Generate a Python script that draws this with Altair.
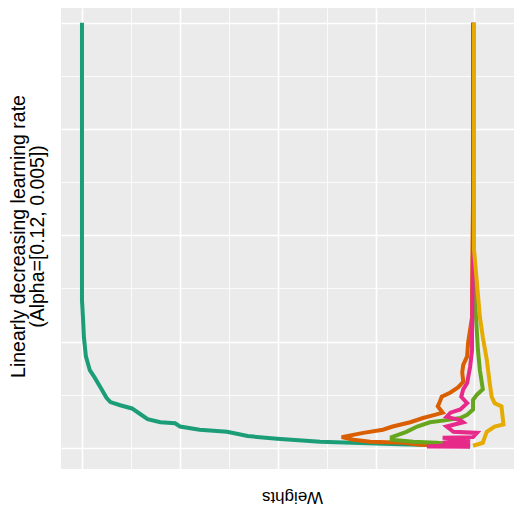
import altair as alt
import pandas as pd

# Series (x = weight position, y = vertical position)
series_names = ["s1", "s2", "s3", "s4", "s5"]
series_colors = ["#1B9E77", "#D95F02", "#66A61E", "#E7298A", "#E6AB02"]

teal_x = [0, 0, 0, 0.01, 0.02, 0.04, 0.08, 0.13, 0.20, 0.25, 0.29, 0.39, 0.51, 0.59, 0.67, 0.80,
          0.95, 1.00, 1.20, 1.48, 1.69, 1.99, 2.43, 2.76, 3.24, 3.65, 3.96]
teal_y = [4.0, 1.86, 1.39, 1.23, 1.04, 0.86, 0.73, 0.66, 0.55, 0.47, 0.43, 0.40, 0.37, 0.32, 0.27, 0.24,
          0.23, 0.20, 0.17, 0.15, 0.11, 0.085, 0.056, 0.047, 0.033, 0.024, 0.014]

orange_x = [3.99, 3.99, 3.98, 3.98, 3.94, 3.93, 3.89, 3.88, 3.89, 3.84, 3.76, 3.67, 3.65, 3.63, 3.68,
            3.60, 3.48, 3.35, 3.17, 3.07, 2.87, 2.65, 2.77, 2.94, 3.28, 3.45, 3.81]
orange_y = [4.0, 2.33, 1.49, 1.23, 0.99, 0.86, 0.78, 0.71, 0.62, 0.57, 0.52, 0.48, 0.43, 0.39, 0.33,
            0.31, 0.28, 0.24, 0.20, 0.17, 0.14, 0.10, 0.075, 0.056, 0.047, 0.028, 0.019]

green_x = [4.0, 4.0, 4.01, 4.03, 4.04, 4.06, 4.08, 4.09, 4.03, 3.99, 3.99, 3.93, 3.86, 3.72, 3.55,
           3.42, 3.31, 3.16, 3.16, 3.38, 3.62, 3.86]
green_y = [4.0, 1.86, 1.39, 1.08, 0.92, 0.73, 0.61, 0.55, 0.50, 0.45, 0.36, 0.31, 0.28, 0.26, 0.24,
           0.20, 0.15, 0.10, 0.075, 0.056, 0.047, 0.028]

pink_x = [3.99, 3.99, 3.98, 3.98, 3.96, 3.93, 3.89, 3.87, 3.93, 3.86, 3.76, 3.72, 3.86, 3.89, 3.72,
          3.79, 4.03, 3.99, 3.68, 3.96, 3.68, 3.96, 3.52, 3.96]
pink_y = [4.0, 1.86, 1.08, 0.92, 0.76, 0.61, 0.55, 0.48, 0.42, 0.36, 0.33, 0.29, 0.26, 0.24, 0.20,
          0.15, 0.14, 0.10, 0.094, 0.075, 0.047, 0.035, 0.012, 0.009]

yellow_x = [4.0, 4.0, 4.03, 4.06, 4.09, 4.13, 4.16, 4.18, 4.21, 4.28, 4.30, 4.21, 4.13, 4.11, 4.09, 3.99]
yellow_y = [4.0, 1.86, 1.55, 1.23, 1.04, 0.83, 0.61, 0.48, 0.42, 0.39, 0.22, 0.20, 0.15, 0.10, 0.047, 0.019]

major_ticks = [0, 1, 2, 3, 4]
minor_ticks = [0.5, 1.5, 2.5, 3.5]

rows = []
for name, xs, ys in zip(series_names,
                        [teal_x, orange_x, green_x, pink_x, yellow_x],
                        [teal_y, orange_y, green_y, pink_y, yellow_y]):
    for i, (xv, yv) in enumerate(zip(xs, ys)):
        rows.append({"series": name, "idx": i, "w": xv, "v": yv})
df = pd.DataFrame(rows)

grid_width = {"condition": {"test": "datum.value % 1 === 0", "value": 1.6}, "value": 0.8}

chart = alt.Chart(df).mark_line(strokeWidth=4, strokeJoin="miter").encode(
    x=alt.X("w:Q",
            scale=alt.Scale(domain=[-0.214, 4.408], nice=False, zero=False),
            axis=alt.Axis(values=major_ticks + minor_ticks, labels=False, ticks=False, domain=False,
                          grid=True, gridColor="white", gridWidth=grid_width,
                          title="Weights", titleAngle=180, titleFontSize=17,
                          titleFont="Liberation Sans", titleFontWeight="normal", titleColor="black",
                          titleBaseline="alphabetic", titleX=231, titleY=22)),
    y=alt.Y("v:Q",
            scale=alt.Scale(domain=[-0.2, 4.14], nice=False, zero=False),
            axis=alt.Axis(values=major_ticks + minor_ticks, labels=False, ticks=False, domain=False,
                          grid=True, gridColor="white", gridWidth=grid_width,
                          title=["Linearly decreasing learning rate", "(Alpha=[0.12, 0.005])"],
                          titleAngle=270, titleFontSize=19.5, titleLineHeight=19,
                          titleFont="Liberation Sans", titleFontWeight="normal", titleColor="black",
                          titleBaseline="alphabetic", titleAlign="center", titleX=-37, titleY=228)),
    color=alt.Color("series:N", scale=alt.Scale(domain=series_names, range=series_colors), legend=None),
    order=alt.Order("idx:Q"),
).properties(
    width=453, height=461,
    background="white",
    autosize=alt.AutoSizeParams(type="none"),
    padding={"left": 53, "top": 0, "right": 0, "bottom": 36},
).configure_view(
    fill="#EBEBEB", stroke=None
)

chart.save("out.html", embed_options={"renderer": "svg", "actions": False})
